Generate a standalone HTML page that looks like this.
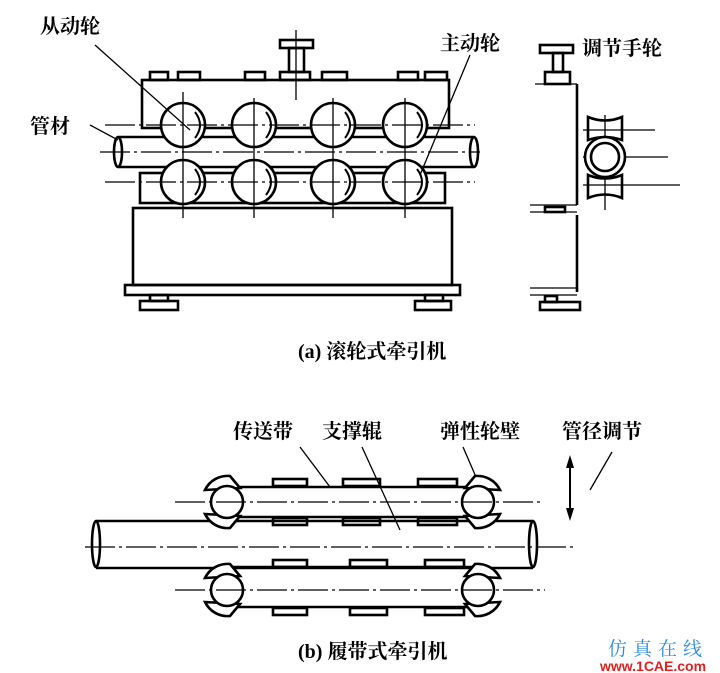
<!DOCTYPE html>
<html><head><meta charset="utf-8"><style>
body{margin:0;background:#fff;}
svg{display:block;}
text{font-family:"Liberation Serif","Noto Serif CJK SC","Noto Sans CJK SC",serif;fill:#000;}
</style></head><body>
<svg width="720" height="673" viewBox="0 0 720 673" xmlns="http://www.w3.org/2000/svg">
<g fill="none" stroke="#000" stroke-width="2.6">
<rect x="142" y="80" width="307" height="48"/>
<rect x="150" y="72" width="18" height="8"/><rect x="178" y="72" width="22" height="8"/>
<rect x="245" y="72" width="20" height="8"/><rect x="280" y="72" width="30" height="8"/>
<rect x="322" y="72" width="25" height="8"/><rect x="398" y="72" width="20" height="8"/>
<rect x="425" y="72" width="22" height="8"/>
<rect x="280" y="40" width="33" height="8"/><rect x="289" y="48" width="15" height="24"/>
<path d="M118 137 H474 M118 167 H474"/>
<ellipse cx="118" cy="152" rx="4" ry="15"/><ellipse cx="474" cy="152" rx="4" ry="15"/>
<rect x="140" y="173" width="305" height="30"/>
<rect x="133" y="208" width="319" height="77"/>
<rect x="125" y="285" width="335" height="10"/>
<rect x="150" y="295" width="18" height="6"/><rect x="140" y="301" width="38" height="9"/>
<rect x="425" y="295" width="18" height="6"/><rect x="415" y="301" width="36" height="9"/>
<g fill="#fff">
<circle cx="183" cy="125" r="22"/><circle cx="254" cy="125" r="22"/><circle cx="333" cy="125" r="22"/><circle cx="405" cy="125" r="22"/>
<circle cx="183" cy="182" r="22"/><circle cx="254" cy="182" r="22"/><circle cx="333" cy="182" r="22"/><circle cx="405" cy="182" r="22"/>
</g>
<path d="M195 112 Q205 125 195 138 M266 112 Q276 125 266 138 M345 112 Q355 125 345 138 M417 112 Q427 125 417 138 M195 169 Q205 182 195 195 M266 169 Q276 182 266 195 M345 169 Q355 182 345 195 M417 169 Q427 182 417 195" stroke-width="2"/>
</g>
<g stroke="#000" stroke-width="1.3" fill="none">
<path d="M183 92 V218 M254 98 V218 M333 98 V218 M405 98 V218 M296 30 V100"/>
<path d="M105 125 H475 M100 152 H480 M105 182 H475" stroke-dasharray="30 4 3 4"/>
<path d="M95 45 L190 130 M90 125 L118 140 M470 55 L420 175"/>
<path d="M535 84 H577 M530 205 H577 M530 212 H577 M530 288 H577 M530 295 H577 M583 130 H655 M583 157 H668 M583 185 H680 M605 115 V210" />
</g>
<g fill="none" stroke="#000" stroke-width="2.6">
<path d="M577 84 V205 M577 215 V292"/>
<rect x="540" y="45" width="33" height="8"/><rect x="553" y="53" width="10" height="19"/><rect x="545" y="72" width="25" height="12"/>
<path d="M588 117 Q605 124 622 117 V140 Q605 134 588 140 Z"/>
<path d="M588 175 Q605 182 622 175 V198 Q605 191 588 198 Z"/>
<circle cx="605" cy="157" r="20" fill="#fff"/><circle cx="605" cy="157" r="14"/>
<rect x="545" y="296" width="12" height="6"/><rect x="540" y="302" width="40" height="8"/>
<rect x="545" y="207" width="20" height="5"/>
</g>
<g fill="none" stroke="#000" stroke-width="2.6">
<path d="M96 521 H533 M96 568 H533"/>
<ellipse cx="96" cy="544" rx="4" ry="23"/><ellipse cx="533" cy="544" rx="4" ry="23"/>
<path d="M218 487 H488 M218 517 H488 M218 567 H488 M218 607 H488"/>
<rect x="273" y="479" width="34" height="7"/><rect x="343" y="479" width="37" height="7"/><rect x="418" y="479" width="39" height="7"/>
<rect x="273" y="518" width="34" height="7"/><rect x="343" y="518" width="37" height="7"/><rect x="418" y="518" width="39" height="7"/>
<rect x="273" y="560" width="34" height="7"/><rect x="350" y="560" width="37" height="7"/><rect x="425" y="560" width="39" height="7"/>
<rect x="273" y="608" width="34" height="7"/><rect x="350" y="608" width="37" height="7"/><rect x="425" y="608" width="39" height="7"/>
<g fill="#fff">
<path d="M205 490 A25 25 0 0 1 230 476 L240 488 Z M205 514 A25 25 0 0 0 230 528 L240 516 Z"/>
<path d="M500 490 A25 25 0 0 0 475 476 L465 488 Z M500 514 A25 25 0 0 1 475 528 L465 516 Z"/>
<path d="M205 578 A25 25 0 0 1 230 564 L240 576 Z M205 602 A25 25 0 0 0 230 616 L240 604 Z"/>
<path d="M500 578 A25 25 0 0 0 475 564 L465 576 Z M500 602 A25 25 0 0 1 475 616 L465 604 Z"/>
<circle cx="227" cy="502" r="16"/><circle cx="478" cy="502" r="16"/>
<circle cx="227" cy="590" r="16"/><circle cx="478" cy="590" r="16"/>
</g>
</g>
<g stroke="#000" stroke-width="1.3" fill="none">
<path d="M175 502 H540 M85 547 H575 M175 590 H545" stroke-dasharray="30 4 3 4"/>
<path d="M300 447 L330 487 M362 447 L400 530 M463 447 L476 477 M612 452 L590 490"/>
<path d="M570 458 V518" stroke-width="2"/>
</g>
<path d="M570 455 L566 468 L574 468 Z M570 521 L566 508 L574 508 Z" fill="#000"/>
<g font-size="20" font-weight="bold">
<text x="40" y="33">从动轮</text>
<text x="30" y="133">管材</text>
<text x="440" y="50">主动轮</text>
<text x="582" y="55">调节手轮</text>
<text x="233" y="438">传送带</text>
<text x="322" y="438">支撑辊</text>
<text x="440" y="438">弹性轮壁</text>
<text x="562" y="438">管径调节</text>
<text x="298" y="358">(a) 滚轮式牵引机</text>
<text x="298" y="658">(b) 履带式牵引机</text>
</g>
<text x="608" y="655" font-size="19" style="fill:#2a8ee0;letter-spacing:6px" font-family="Noto Sans CJK SC, sans-serif">仿真在线</text>
<text x="600" y="671" font-size="14" font-weight="bold" style="fill:#e02020;font-family:'Liberation Sans',sans-serif">www.1CAE.com</text>
</svg>
</body></html>
